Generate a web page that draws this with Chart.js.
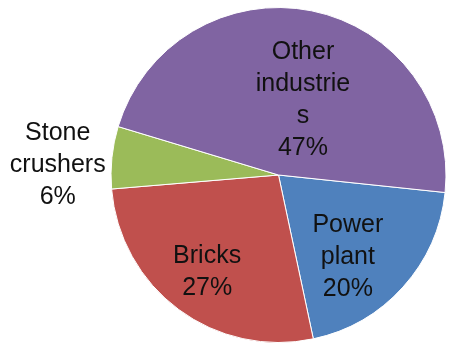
<!DOCTYPE html>
<html>
<head>
<meta charset="utf-8">
<script src="https://cdn.jsdelivr.net/npm/chart.js@4"></script>
<style>
html,body{margin:0;padding:0;background:#fff;}
#wrap{width:452px;height:353px;position:relative;}
</style>
</head>
<body>
<div id="wrap"><canvas id="c" width="452" height="353"></canvas></div>
<script>
const categories = ["Power plant", "Bricks", "Stone crushers", "Other industries"];
const values = [20, 27, 6, 47];
const labelLines = [["Power", "plant"], ["Bricks"], ["Stone", "crushers"], ["Other", "industrie", "s"]];
const colors = ["#4F81BD", "#C0504D", "#9BBB59", "#8064A2"];
// label centre offsets, in units of the pie radius
const labelOffsets = [[0.414, 0.49], [-0.426, 0.58], [-1.318, -0.06], [0.146, -0.45]];

const labelPlugin = {
  id: 'sliceLabels',
  afterDatasetsDraw(chart) {
    const ctx = chart.ctx;
    const meta = chart.getDatasetMeta(0);
    const total = values.reduce((a, b) => a + b, 0);
    ctx.save();
    ctx.font = '25px "Liberation Sans", Arial, sans-serif';
    ctx.fillStyle = '#111';
    ctx.textAlign = 'center';
    ctx.textBaseline = 'middle';
    meta.data.forEach((arc, i) => {
      const r = arc.outerRadius;
      const cx = arc.x + labelOffsets[i][0] * r;
      const cy = arc.y + labelOffsets[i][1] * r;
      const lines = labelLines[i].concat([Math.round(values[i] / total * 100) + '%']);
      const lh = 32;
      const top = cy - (lines.length - 1) * lh / 2;
      lines.forEach((t, k) => ctx.fillText(t, cx, top + k * lh));
    });
    ctx.restore();
  }
};

new Chart(document.getElementById('c'), {
  type: 'pie',
  data: {
    labels: categories,
    datasets: [{
      data: values,
      backgroundColor: colors,
      borderColor: '#ffffff',
      borderWidth: 1
    }]
  },
  options: {
    responsive: false,
    animation: false,
    rotation: 96,
    layout: { padding: { left: 110, right: 5, top: 7, bottom: 10 } },
    plugins: { legend: { display: false }, tooltip: { enabled: false } }
  },
  plugins: [labelPlugin]
});
</script>
</body>
</html>
